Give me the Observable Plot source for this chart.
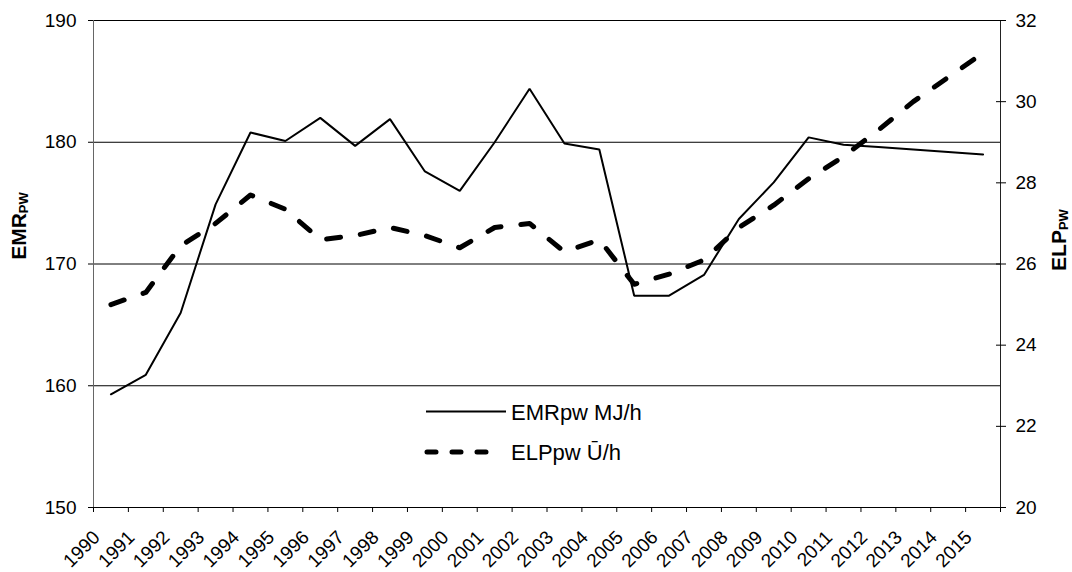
<!DOCTYPE html>
<html>
<head>
<meta charset="utf-8">
<script src="https://cdn.jsdelivr.net/npm/d3@7"></script>
<script src="https://cdn.jsdelivr.net/npm/@observablehq/plot@0.6"></script>
<style>
  html, body { margin: 0; padding: 0; background: #fff; }
  #chart { width: 1072px; height: 572px; }
  #chart svg { display: block; }
</style>
</head>
<body>
<div id="chart"></div>
<script>
// Yearly series: EMRpw (MJ/h, left axis) and ELPpw (Ū/h, right axis)
const years = [1990, 1991, 1992, 1993, 1994, 1995, 1996, 1997, 1998, 1999, 2000, 2001, 2002,
               2003, 2004, 2005, 2006, 2007, 2008, 2009, 2010, 2011, 2012, 2013, 2014, 2015];
const emr = [159.3, 160.9, 166.0, 174.9, 180.8, 180.1, 182.0, 179.7, 181.9, 177.6, 176.0, 180.0, 184.4,
             179.9, 179.4, 167.4, 167.4, 169.1, 173.7, 176.7, 180.4, 179.8, 179.6, 179.4, 179.2, 179.0];
const elp = [25.0, 25.3, 26.45, 27.0, 27.7, 27.35, 26.6, 26.7, 26.9, 26.7, 26.4, 26.9, 27.0,
             26.3, 26.6, 25.5, 25.75, 26.1, 26.9, 27.45, 28.1, 28.65, 29.3, 30.0, 30.6, 31.2];
const emrTicks = [150, 160, 170, 180, 190];
const elpTicks = [20, 22, 24, 26, 28, 30, 32];
const gridValues = [160, 170, 180, 190];
const legendLabels = ["EMRpw MJ/h", "ELPpw Ū/h"];

// The right axis (20–32) shares the left y scale (150–190) through a linear map.
const emrDomain = [150, 190];
const elpDomain = [20, 32];
const toLeft = v => emrDomain[0] + (v - elpDomain[0]) * (emrDomain[1] - emrDomain[0]) / (elpDomain[1] - elpDomain[0]);
const fromLeft = v => elpDomain[0] + (v - emrDomain[0]) * (elpDomain[1] - elpDomain[0]) / (emrDomain[1] - emrDomain[0]);

const rows = years.map((year, i) => ({year, emr: emr[i], elp: elp[i]}));
// Category edges: each year occupies one slot, points sit at the slot centre.
const edges = d3.range(years[0], years[years.length - 1] + 2);
const mid = y => y + 0.5;

const font = "'Liberation Sans', Arial, Helvetica, sans-serif";

const svg = Plot.plot({
  width: 1072,
  height: 572,
  marginLeft: 93,
  marginRight: 72,
  marginTop: 20,
  marginBottom: 65,
  style: {fontFamily: font, fontSize: "19px", color: "#000", background: "#fff"},
  x: {type: "linear", domain: [edges[0], edges[edges.length - 1]]},
  y: {type: "linear", domain: emrDomain},
  marks: [
    // horizontal gridlines
    Plot.ruleY(gridValues, {stroke: "#000", strokeWidth: 1}),
    // axis lines
    Plot.ruleY([emrDomain[0]], {stroke: "#000", strokeWidth: 1}),
    Plot.ruleX([edges[0]], {stroke: "#666", strokeWidth: 1}),
    Plot.ruleX([edges[edges.length - 1]], {stroke: "#222", strokeWidth: 1}),
    // category tick marks (no text)
    Plot.axisX(edges, {anchor: "bottom", tickSize: 5, fill: "none", label: null, stroke: "#000"}),
    // rotated year labels at slot centres
    Plot.text(years, {
      x: mid,
      frameAnchor: "bottom",
      text: d => String(d),
      rotate: -45,
      textAnchor: "end",
      lineAnchor: "bottom",
      dx: -10,
      dy: 31,
      fontSize: 19,
      fill: "#000"
    }),
    // left axis (EMR)
    Plot.axisY(emrTicks, {anchor: "left", tickSize: 5, tickPadding: 12, fontSize: 19, label: null, stroke: "#000"}),
    // right axis (ELP), ticks crossing the axis line
    Plot.axisY(elpTicks.map(toLeft), {
      anchor: "right",
      tickSize: 10,
      dx: -5,
      tickPadding: 10,
      fontSize: 19,
      label: null,
      stroke: "#000",
      tickFormat: v => String(Math.round(fromLeft(v)))
    }),
    // EMRpw series
    Plot.line(rows, {x: d => mid(d.year), y: "emr", stroke: "#000", strokeWidth: 2, strokeLinejoin: "miter"}),
    // ELPpw series, thick dashed
    Plot.line(rows, {
      x: d => mid(d.year),
      y: d => toLeft(d.elp),
      stroke: "#000",
      strokeWidth: 5,
      strokeDasharray: "14,20",
      strokeLinecap: "round",
      strokeLinejoin: "round"
    })
  ]
});

const root = d3.select(svg);

// Axis titles with subscripts
function axisTitle(x, y, main, sub) {
  const t = root.append("text")
    .attr("transform", `translate(${x},${y}) rotate(-90)`)
    .attr("text-anchor", "middle")
    .attr("font-family", font)
    .attr("font-weight", "bold")
    .attr("font-size", 21)
    .attr("fill", "#000");
  t.append("tspan").text(main);
  t.append("tspan").attr("font-size", 13).attr("dy", 1.5).text(sub);
}
axisTitle(26, 226, "EMR", "PW");
axisTitle(1066, 240, "ELP", "PW");

// Legend inside the plot area
const legend = root.append("g");
legend.append("line")
  .attr("x1", 426).attr("x2", 506).attr("y1", 411.5).attr("y2", 411.5)
  .attr("stroke", "#000").attr("stroke-width", 2);
legend.append("line")
  .attr("x1", 427).attr("x2", 495).attr("y1", 452).attr("y2", 452)
  .attr("stroke", "#000").attr("stroke-width", 5)
  .attr("stroke-dasharray", "9,16").attr("stroke-linecap", "round");
legend.selectAll("text.item")
  .data(legendLabels)
  .join("text")
  .attr("class", "item")
  .attr("x", 511)
  .attr("y", (d, i) => 420 + i * 40)
  .attr("text-anchor", "start")
  .attr("font-family", font)
  .attr("font-size", 22)
  .attr("fill", "#000")
  .text(d => d);

document.getElementById("chart").appendChild(svg);
</script>
</body>
</html>
